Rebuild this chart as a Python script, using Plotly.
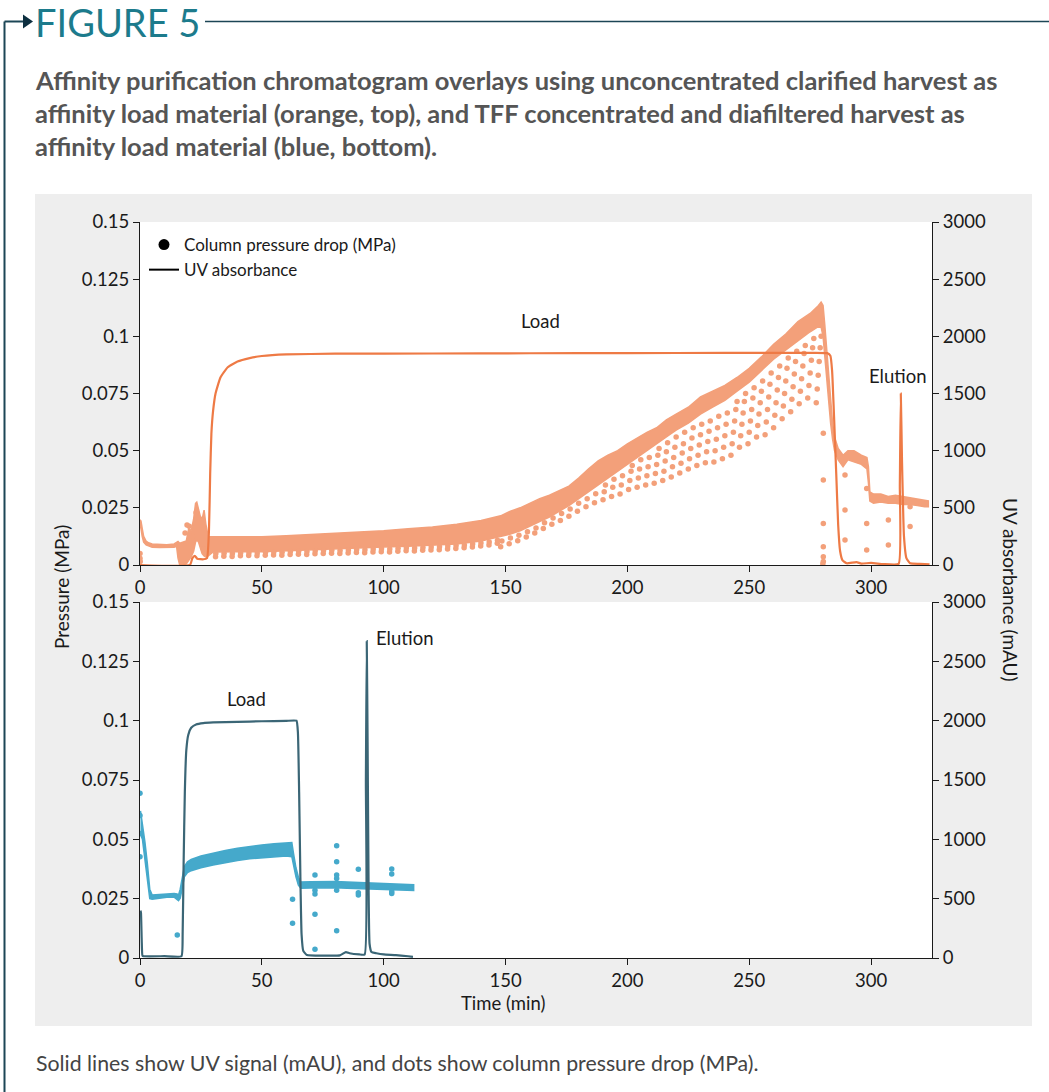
import plotly.graph_objects as go

W, H = 1049, 1092
FONT = "Lato, 'Open Sans', sans-serif"

# ---------------- top run: unconcentrated clarified harvest ----------------
# UV absorbance (mAU) vs time (min)
uv_top_t = [0, 20.5, 21.5, 22.5, 23.5, 26.0, 27.5, 28.3, 28.8, 29.3, 30.0, 31.0, 33.0, 36.0,
            40.0, 45.0, 50.0, 60.0, 80.0, 120.0, 160.0, 200.0, 240.0, 270.0, 282.0, 283.3,
            284.0, 284.8, 285.7, 286.5, 287.3, 288.3, 290.0, 294.0, 296.0, 300.0, 305.0,
            311.3, 311.8, 312.2, 312.7, 313.5, 314.5, 316.0, 320.0, 324.0]
uv_top = [0, 0, 60, 80, 55, 50, 60, 300, 800, 1150, 1350, 1500, 1640, 1730,
          1780, 1810, 1828, 1842, 1848, 1850, 1852, 1853, 1855, 1855, 1853, 1830,
          1700, 1300, 800, 350, 120, 40, 15, 25, 12, 18, 8,
          10, 700, 1500, 900, 250, 60, 15, 10, 5]

# column pressure drop (MPa): dense band of readings (upper / lower edge)
p_top_t = [0.0, 0.4, 0.9, 1.5, 2.5, 3.5, 5.0, 8.0, 11.0, 14.0, 15.0, 15.6, 16.3, 17.5, 19.0,
           20.0, 21.0, 22.0, 22.8, 23.3, 24.0, 24.7, 25.5, 26.3, 27.0, 27.6,
           28.0, 30, 40, 50, 60, 70, 80, 90, 100, 110, 120, 130, 140, 148, 152, 156, 160,
           164, 168, 172, 176, 180, 184, 188, 192, 196, 200, 204, 208, 212, 216, 220, 225,
           230, 235, 240, 245, 250, 255, 260, 265, 270, 275, 278, 279.5, 280.3,
           281.0, 281.8, 282.6, 283.4, 284.2, 285.0, 286.5, 288.5, 290.5, 293.0, 296.0,
           298.3, 298.9, 299.5, 301.0, 304.0, 307.0, 310.0, 313.0, 316.0, 319.0, 322.0, 323.5]
p_top_hi = [0.0198, 0.0192, 0.0160, 0.0125, 0.0105, 0.0097, 0.0092, 0.0090, 0.0089, 0.0092,
            0.0100, 0.0103, 0.0095, 0.0100, 0.0105, 0.0160, 0.0150, 0.0200, 0.0270, 0.0275,
            0.0250, 0.0215, 0.0200, 0.0240, 0.0180, 0.0140,
            0.0125, 0.0123, 0.0123, 0.0124, 0.0128, 0.0133, 0.0139, 0.0144, 0.0150, 0.0158,
            0.0166, 0.0178, 0.0195, 0.0215, 0.0235, 0.0250, 0.0270, 0.0290, 0.0305, 0.0325,
            0.0345, 0.0380, 0.0420, 0.0455, 0.0480, 0.0500, 0.0530, 0.0555, 0.0580, 0.0600,
            0.0635, 0.0660, 0.0690, 0.0735, 0.0760, 0.0785, 0.0820, 0.0860, 0.0910, 0.0965,
            0.1010, 0.1065, 0.1100, 0.1130, 0.1150, 0.1135,
            0.1050, 0.0950, 0.0850, 0.0720, 0.0620, 0.0560, 0.0510, 0.0480, 0.0500, 0.0500,
            0.0480, 0.0470, 0.0430, 0.0320, 0.0310, 0.0310, 0.0300, 0.0305, 0.0300, 0.0295,
            0.0290, 0.0285, 0.0280]
p_top_lo = [0.0170, 0.0160, 0.0125, 0.0100, 0.0088, 0.0082, 0.0078, 0.0077, 0.0076, 0.0078,
            0.0082, 0.0030, 0.0000, 0.0000, 0.0005, 0.0020, 0.0035, 0.0060, 0.0100, 0.0110,
            0.0100, 0.0080, 0.0050, 0.0040, 0.0035, 0.0035,
            0.0040, 0.0057, 0.0058, 0.0058, 0.0062, 0.0066, 0.0070, 0.0075, 0.0079, 0.0082,
            0.0086, 0.0092, 0.0105, 0.0125, 0.0135, 0.0150, 0.0170, 0.0190, 0.0210, 0.0235,
            0.0260, 0.0290, 0.0320, 0.0350, 0.0380, 0.0410, 0.0440, 0.0470, 0.0500, 0.0530,
            0.0560, 0.0590, 0.0620, 0.0660, 0.0690, 0.0720, 0.0760, 0.0800, 0.0850, 0.0900,
            0.0940, 0.0980, 0.1020, 0.1040, 0.1040, 0.1000,
            0.0920, 0.0830, 0.0720, 0.0620, 0.0550, 0.0500, 0.0460, 0.0430, 0.0460, 0.0450,
            0.0440, 0.0420, 0.0360, 0.0280, 0.0270, 0.0275, 0.0270, 0.0270, 0.0265, 0.0265,
            0.0260, 0.0255, 0.0255]

# individual pressure readings falling below the dense band
p_top_dot_t = [
    0.0, 0.0, 0.1, 18.5, 19.3, 20.2, 21.5, 23.0, 26.0,
    31.0, 34.4, 37.8, 41.2, 44.6, 48.0, 51.4, 54.8, 58.2, 61.6, 65.0, 68.4, 71.8, 75.2,
    78.6, 82.0, 85.4, 88.8, 92.2, 95.6, 99.0, 102.4, 105.8, 109.2, 112.6, 116.0, 119.4,
    122.8, 126.2, 129.6, 133.0, 136.4, 139.8, 143.2, 146.6,
    31.1, 34.5, 37.9, 41.3, 44.7, 48.1, 51.5, 54.9, 58.3, 61.7, 65.1, 68.5, 71.9, 75.3,
    78.7, 82.1, 85.5, 88.9, 92.3, 95.7, 99.1, 102.5, 105.9, 109.3, 112.7, 116.1, 119.5,
    122.9, 126.3, 129.7, 133.1, 136.5, 139.9, 143.3, 146.7,
    148.0, 148.5, 151.5, 152.0, 155.0, 155.5, 158.5, 159.0, 162.0, 162.5, 165.5, 166.0,
    169.0, 169.5, 172.5, 173.0, 176.0, 176.5, 179.5, 180.0, 183.0, 183.5, 186.5, 187.0,
    190.0, 190.5, 191.0, 193.5, 194.0, 194.5, 197.0, 197.5, 198.0,
    200.5, 201.0, 201.5, 202.0, 204.0, 204.5, 205.0, 205.5, 207.5, 208.0, 208.5, 209.0,
    211.0, 211.5, 212.0, 212.5, 213.0, 214.5, 215.0, 215.5, 216.0, 216.5,
    218.0, 218.5, 219.0, 219.5, 220.0, 221.5, 222.0, 222.5, 223.0, 223.5,
    225.0, 225.5, 226.0, 226.5, 227.0, 228.5, 229.0, 229.5, 230.0, 230.5,
    232.0, 232.5, 233.0, 233.5, 234.0, 235.5, 236.0, 236.5, 237.0, 237.5,
    239.0, 239.5, 240.0, 240.5, 241.0,
    242.5, 243.0, 243.5, 244.0, 244.5, 245.0, 246.0, 246.5, 247.0, 247.5, 248.0, 248.5,
    249.5, 250.0, 250.5, 251.0, 251.5, 252.0, 253.0, 253.5, 254.0, 254.5, 255.0, 255.5,
    256.5, 257.0, 257.5, 258.0, 258.5, 259.0, 260.0, 260.5, 261.0, 261.5, 262.0, 262.5,
    263.5, 264.0, 264.5, 265.0, 265.5, 266.0, 267.0, 267.5, 268.0, 268.5, 269.0, 269.5,
    270.5, 271.0, 271.5, 272.0, 272.5, 273.0, 274.0, 274.5, 275.0, 275.5, 276.0, 276.5,
    277.5, 277.9, 278.3, 278.7, 279.1, 279.5,
    280.4, 280.4, 280.4, 280.4, 280.4, 280.4, 280.2, 289.3, 289.3, 289.3, 298.2, 298.2,
    298.2, 307.1, 307.1, 316.0, 316.0]
p_top_dot = [
    0.0050, 0.0029, 0.0015, 0.0140, 0.0175, 0.0170, 0.0125, 0.0230, 0.0070,
    0.0036, 0.0038, 0.0037, 0.0040, 0.0041, 0.0040, 0.0043, 0.0044, 0.0043, 0.0046, 0.0047,
    0.0046, 0.0049, 0.0050, 0.0051, 0.0050, 0.0053, 0.0055, 0.0054, 0.0057, 0.0058, 0.0057,
    0.0060, 0.0062, 0.0061, 0.0064, 0.0066, 0.0067, 0.0070, 0.0072, 0.0075, 0.0079, 0.0083,
    0.0088, 0.0095,
    0.0050, 0.0051, 0.0050, 0.0053, 0.0054, 0.0053, 0.0056, 0.0057, 0.0056, 0.0059, 0.0060,
    0.0059, 0.0062, 0.0063, 0.0064, 0.0063, 0.0066, 0.0068, 0.0067, 0.0070, 0.0071, 0.0070,
    0.0073, 0.0075, 0.0074, 0.0077, 0.0079, 0.0080, 0.0083, 0.0085, 0.0088, 0.0092, 0.0096,
    0.0101, 0.0108,
    0.0080, 0.0105, 0.0093, 0.0118, 0.0106, 0.0130, 0.0122, 0.0145, 0.0140, 0.0162, 0.0160,
    0.0185, 0.0178, 0.0205, 0.0195, 0.0225, 0.0213, 0.0245, 0.0235, 0.0270, 0.0255, 0.0290,
    0.0272, 0.0312,
    0.0285, 0.0320, 0.0350, 0.0300, 0.0340, 0.0375, 0.0310, 0.0350, 0.0390,
    0.0330, 0.0370, 0.0410, 0.0435, 0.0340, 0.0380, 0.0420, 0.0460, 0.0350, 0.0390, 0.0430,
    0.0470,
    0.0357, 0.0400, 0.0440, 0.0480, 0.0510, 0.0370, 0.0410, 0.0455, 0.0495, 0.0535,
    0.0385, 0.0430, 0.0470, 0.0515, 0.0560, 0.0402, 0.0445, 0.0490, 0.0530, 0.0580,
    0.0420, 0.0465, 0.0510, 0.0555, 0.0600, 0.0435, 0.0480, 0.0525, 0.0570, 0.0615,
    0.0447, 0.0495, 0.0540, 0.0585, 0.0630, 0.0450, 0.0500, 0.0550, 0.0600, 0.0650,
    0.0465, 0.0515, 0.0565, 0.0615, 0.0665,
    0.0480, 0.0530, 0.0580, 0.0630, 0.0680, 0.0715, 0.0515, 0.0565, 0.0615, 0.0665, 0.0715,
    0.0750, 0.0530, 0.0580, 0.0630, 0.0680, 0.0730, 0.0775, 0.0560, 0.0610, 0.0660, 0.0710,
    0.0760, 0.0805, 0.0570, 0.0625, 0.0680, 0.0735, 0.0790, 0.0840, 0.0600, 0.0655, 0.0710,
    0.0765, 0.0820, 0.0870, 0.0640, 0.0695, 0.0750, 0.0805, 0.0860, 0.0905, 0.0670, 0.0725,
    0.0780, 0.0835, 0.0890, 0.0935, 0.0705, 0.0760, 0.0815, 0.0870, 0.0925, 0.0960, 0.0730,
    0.0785, 0.0840, 0.0895, 0.0950, 0.0990,
    0.0710, 0.0770, 0.0830, 0.0890, 0.0950, 0.1000,
    0.0576, 0.0372, 0.0182, 0.0080, 0.0036, 0.0015, 0.0005, 0.0394, 0.0240, 0.0109, 0.0335,
    0.0182, 0.0066, 0.0197, 0.0087, 0.0255, 0.0168]

# ---------------- bottom run: TFF concentrated / diafiltered harvest ----------------
uv_bot_t = [0.2, 0.4, 0.7, 1.0, 1.5, 10.0, 17.0, 17.5, 17.9, 18.4, 19.0, 19.8, 21.0, 23.0,
            26.0, 30.0, 40.0, 50.0, 60.0, 64.2, 64.8, 65.3, 65.8, 66.3, 67.0, 68.5, 75.0,
            82.0, 84.5, 86.0, 90.0, 92.2, 92.7, 93.05, 93.4, 93.8, 94.2, 95.0, 97.0, 100.0,
            105.0, 110.0, 112.0]
uv_bot = [400, 380, 150, 20, 15, 15, 15, 200, 800, 1400, 1750, 1880, 1940, 1968,
          1980, 1985, 1990, 1995, 1998, 2000, 1900, 1400, 700, 200, 60, 25, 20,
          22, 50, 40, 30, 30, 1500, 2670, 1800, 600, 120, 50, 40, 30,
          25, 15, 10]

p_bot_t = [0.2, 1.0, 2.0, 3.0, 4.0, 5.0, 8.0, 11.0, 14.0, 15.2, 15.8, 16.5, 17.3, 18.2, 19.5,
           21.0, 25.0, 30.0, 35.0, 40.0, 45.0, 50.0, 55.0, 60.0, 62.3, 63.0, 64.0, 65.0,
           66.0, 70.0, 75.0, 80.0, 85.0, 90.0, 95.0, 100.0, 105.0, 110.0, 112.3]
p_bot_hi = [0.0620, 0.0570, 0.0490, 0.0400, 0.0290, 0.0265, 0.0268, 0.0272, 0.0272, 0.0270,
            0.0265, 0.0290, 0.0330, 0.0385, 0.0405, 0.0415, 0.0430, 0.0442, 0.0453, 0.0462,
            0.0470, 0.0476, 0.0481, 0.0485, 0.0486, 0.0440, 0.0380, 0.0340, 0.0320, 0.0321,
            0.0323, 0.0322, 0.0320, 0.0318, 0.0316, 0.0314, 0.0312, 0.0310, 0.0309]
p_bot_lo = [0.0520, 0.0500, 0.0420, 0.0340, 0.0250, 0.0248, 0.0252, 0.0256, 0.0256, 0.0247,
            0.0242, 0.0252, 0.0292, 0.0342, 0.0360, 0.0368, 0.0380, 0.0392, 0.0402, 0.0411,
            0.0418, 0.0423, 0.0427, 0.0430, 0.0427, 0.0392, 0.0342, 0.0307, 0.0294, 0.0295,
            0.0297, 0.0296, 0.0294, 0.0292, 0.0291, 0.0289, 0.0287, 0.0286, 0.0285]

p_bot_dot_t = [0.0, 0.0, 0.0, 0.0, 15.3, 62.6, 62.6, 71.8, 71.8, 71.8, 71.8, 71.8, 80.7, 80.7,
               80.7, 80.7, 80.7, 80.7, 89.6, 89.6, 89.6, 103.3, 103.3, 103.3, 103.3]
p_bot_dot = [0.0694, 0.0600, 0.0525, 0.0427, 0.0097, 0.0248, 0.0146, 0.0350, 0.0184, 0.0037,
             0.0270, 0.0285, 0.0473, 0.0406, 0.0350, 0.0115, 0.0335, 0.0285, 0.0374, 0.0265,
             0.0275, 0.0375, 0.0354, 0.0272, 0.0280]

# axis ticks
x_ticks = [0, 50, 100, 150, 200, 250, 300]
p_ticks = [0, 0.025, 0.05, 0.075, 0.1, 0.125, 0.15]
p_ticktext = ["0", "0.025", "0.05", "0.075", "0.1", "0.125", "0.15"]
uv_ticks = [0, 500, 1000, 1500, 2000, 2500, 3000]

# colours
C_TOP_P = "#f3a07a"
C_TOP_UV = "#ee7a45"
C_BOT_P = "#45a9cb"
C_BOT_UV = "#3b6676"
TEAL = "#1c7b8c"
DARK = "#1c4656"
INK = "#1a1a1a"


def px(x):
    return x / W


def py(y):
    return 1 - y / H


fig = go.Figure()

# top panel
fig.add_trace(go.Scatter(x=p_top_t + p_top_t[::-1], y=p_top_hi + p_top_lo[::-1],
                         fill="toself", fillcolor=C_TOP_P, mode="lines",
                         line=dict(color=C_TOP_P, width=1.5), xaxis="x", yaxis="y",
                         showlegend=False, hoverinfo="skip"))
fig.add_trace(go.Scatter(x=p_top_dot_t, y=p_top_dot, mode="markers",
                         marker=dict(color=C_TOP_P, size=5.5), xaxis="x", yaxis="y",
                         showlegend=False))
fig.add_trace(go.Scatter(x=uv_top_t, y=uv_top, mode="lines",
                         line=dict(color=C_TOP_UV, width=2.2, shape="spline", smoothing=0.4),
                         xaxis="x", yaxis="y2", showlegend=False))

# bottom panel
fig.add_trace(go.Scatter(x=p_bot_t + p_bot_t[::-1], y=p_bot_hi + p_bot_lo[::-1],
                         fill="toself", fillcolor=C_BOT_P, mode="lines",
                         line=dict(color=C_BOT_P, width=1.5), xaxis="x2", yaxis="y3",
                         showlegend=False, hoverinfo="skip"))
fig.add_trace(go.Scatter(x=p_bot_dot_t, y=p_bot_dot, mode="markers",
                         marker=dict(color=C_BOT_P, size=5.5), xaxis="x2", yaxis="y3",
                         showlegend=False))
fig.add_trace(go.Scatter(x=uv_bot_t, y=uv_bot, mode="lines",
                         line=dict(color=C_BOT_UV, width=2.2, shape="spline", smoothing=0.4),
                         xaxis="x2", yaxis="y4", showlegend=False))

# legend keys
fig.add_trace(go.Scatter(x=[None], y=[None], mode="markers", name="Column pressure drop (MPa)",
                         marker=dict(color="black", size=11), xaxis="x", yaxis="y"))
fig.add_trace(go.Scatter(x=[None], y=[None], mode="lines", name="UV absorbance",
                         line=dict(color="black", width=2), xaxis="x", yaxis="y"))

X_DOM = [px(140), px(932)]
TOP_DOM = [py(565), py(222)]
BOT_DOM = [py(958), py(602)]

axis_common = dict(showline=True, linecolor=INK, linewidth=1.3, ticks="outside",
                   ticklen=6, tickwidth=1.3, tickcolor=INK, showgrid=False,
                   zeroline=False, tickfont=dict(family=FONT, size=18.5, color=INK))

fig.update_layout(
    width=W, height=H, autosize=False,
    margin=dict(l=0, r=0, t=0, b=0, pad=0, autoexpand=False),
    paper_bgcolor="white", plot_bgcolor="white",
    font=dict(family=FONT, color=INK),
    xaxis=dict(domain=X_DOM, range=[0, 325], anchor="y", tickvals=x_ticks, **axis_common),
    yaxis=dict(domain=TOP_DOM, range=[0, 0.15], anchor="x", tickvals=p_ticks,
               ticktext=p_ticktext, **axis_common),
    yaxis2=dict(overlaying="y", side="right", anchor="x", range=[0, 3000],
                tickvals=uv_ticks, **axis_common),
    xaxis2=dict(domain=X_DOM, range=[0, 325], anchor="y3", tickvals=x_ticks, **axis_common),
    yaxis3=dict(domain=BOT_DOM, range=[0, 0.15], anchor="x2", tickvals=p_ticks,
                ticktext=p_ticktext, **axis_common),
    yaxis4=dict(overlaying="y3", side="right", anchor="x2", range=[0, 3000],
                tickvals=uv_ticks, **axis_common),
    legend=dict(x=px(144), y=py(227), xanchor="left", yanchor="top",
                bgcolor="rgba(0,0,0,0)", font=dict(family=FONT, size=17, color=INK),
                itemwidth=30, tracegroupgap=0),
    showlegend=True,
)

# grey panel behind both charts, white plotting areas on top of it
shapes = [
    dict(type="rect", xref="paper", yref="paper", x0=px(35), x1=px(1032), y0=py(1026),
         y1=py(194), fillcolor="#eeeeee", line=dict(width=0), layer="below"),
    dict(type="rect", xref="paper", yref="paper", x0=px(140), x1=px(932), y0=py(565),
         y1=py(222), fillcolor="white", line=dict(width=0), layer="below"),
    dict(type="rect", xref="paper", yref="paper", x0=px(140), x1=px(932), y0=py(958),
         y1=py(602), fillcolor="white", line=dict(width=0), layer="below"),
    # frame line on the left and the rule after the heading
    dict(type="line", xref="paper", yref="paper", x0=px(4.5), x1=px(4.5), y0=py(21.5),
         y1=0, line=dict(color=DARK, width=2)),
    dict(type="line", xref="paper", yref="paper", x0=px(4.5), x1=px(24), y0=py(21.5),
         y1=py(21.5), line=dict(color=DARK, width=2)),
    dict(type="path", xref="paper", yref="paper",
         path=f"M {px(23)} {py(14.5)} L {px(33)} {py(21.5)} L {px(23)} {py(28.5)} Z",
         fillcolor="#0d2f40", line=dict(width=0)),
    dict(type="line", xref="paper", yref="paper", x0=px(205), x1=1, y0=py(21.5),
         y1=py(21.5), line=dict(color=DARK, width=1.5)),
]
fig.update_layout(shapes=shapes)

TITLE_STYLE = dict(family=FONT, size=25.5, color="#555555")
LABEL_STYLE = dict(family=FONT, size=18.5, color=INK)
ann = [
    dict(text="FIGURE 5", x=px(33), y=py(22), xanchor="left", yanchor="middle",
         font=dict(family=FONT, size=38, color=TEAL)),
    dict(text="<b>Affinity purification chromatogram overlays using unconcentrated clarified harvest as</b>",
         x=px(33), y=py(80), xanchor="left", yanchor="middle", font=TITLE_STYLE),
    dict(text="<b>affinity load material (orange, top), and TFF concentrated and diafiltered harvest as</b>",
         x=px(33), y=py(113), xanchor="left", yanchor="middle", font=TITLE_STYLE),
    dict(text="<b>affinity load material (blue, bottom).</b>",
         x=px(33), y=py(146), xanchor="left", yanchor="middle", font=TITLE_STYLE),
    dict(text="Solid lines show UV signal (mAU), and dots show column pressure drop (MPa).",
         x=px(34), y=py(1063), xanchor="left", yanchor="middle",
         font=dict(family=FONT, size=21.3, color="#444444")),
    dict(text="Pressure (MPa)", x=px(61), y=py(587), textangle=-90, xanchor="center",
         yanchor="middle", font=dict(family=FONT, size=19, color=INK)),
    dict(text="UV absorbance (mAU)", x=px(1011), y=py(590), textangle=90, xanchor="center",
         yanchor="middle", font=dict(family=FONT, size=19, color=INK)),
    dict(text="Time (min)", x=px(503), y=py(1003), xanchor="center", yanchor="middle",
         font=LABEL_STYLE),
    # phase labels
    dict(text="Load", x=164.5, y=2134, xref="x", yref="y2", font=LABEL_STYLE),
    dict(text="Elution", x=311, y=1650, xref="x", yref="y2", font=LABEL_STYLE),
    dict(text="Load", x=43.5, y=2183, xref="x2", yref="y4", font=LABEL_STYLE),
    dict(text="Elution", x=96.0, y=2697, xref="x2", yref="y4", xanchor="left",
         font=LABEL_STYLE),
]
for a in ann:
    a.setdefault("xref", "paper")
    a.setdefault("yref", "paper")
    a.setdefault("showarrow", False)
fig.update_layout(annotations=ann)

fig.write_html("out.html")
